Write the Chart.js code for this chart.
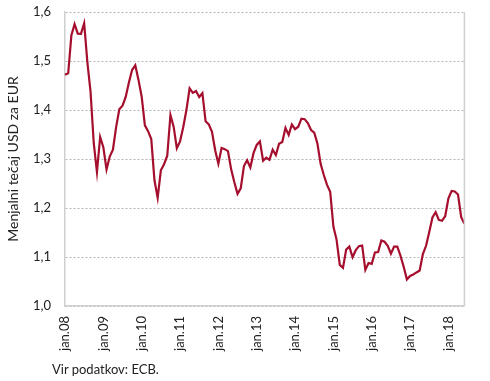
<!DOCTYPE html>
<html>
<head>
<meta charset="utf-8">
<script src="https://cdn.jsdelivr.net/npm/chart.js@4/dist/chart.umd.min.js"></script>
<style>
html,body{margin:0;padding:0;background:#fff;}
#wrap{position:relative;width:490px;height:381px;}
#note{position:absolute;left:52px;top:361px;font:13px Lato, "Open Sans", sans-serif;color:#222;}
</style>
</head>
<body>
<div id="wrap"><canvas id="c" width="490" height="381"></canvas><div id="note">Vir podatkov: ECB.</div></div>
<script>
const monthNames = ['jan','feb','mar','apr','maj','jun','jul','avg','sep','okt','nov','dec'];
const years = ['08','09','10','11','12','13','14','15','16','17','18'];
const categories = [];
for (const y of years) for (const m of monthNames) categories.push(m + '.' + y);
categories.length = 126; // jan.08 - jun.18

const usdPerEur = [
  1.4718,1.4748,1.5527,1.5750,1.5557,1.5553,1.5770,1.4975,1.4370,1.3322,1.2732,1.3449,
  1.3239,1.2785,1.3050,1.3190,1.3650,1.4016,1.4088,1.4268,1.4562,1.4816,1.4914,1.4614,
  1.4272,1.3686,1.3569,1.3406,1.2565,1.2209,1.2770,1.2894,1.3067,1.3898,1.3661,1.3220,
  1.3360,1.3649,1.3999,1.4442,1.4349,1.4388,1.4264,1.4343,1.3770,1.3706,1.3556,1.3179,
  1.2905,1.3224,1.3201,1.3162,1.2789,1.2526,1.2288,1.2400,1.2856,1.2974,1.2828,1.3119,
  1.3288,1.3359,1.2964,1.3026,1.2982,1.3189,1.3080,1.3310,1.3348,1.3635,1.3493,1.3704,
  1.3610,1.3659,1.3823,1.3813,1.3732,1.3592,1.3539,1.3316,1.2901,1.2673,1.2472,1.2331,
  1.1621,1.1350,1.0838,1.0779,1.1150,1.1213,1.0996,1.1139,1.1221,1.1235,1.0736,1.0877,
  1.0860,1.1093,1.1100,1.1339,1.1311,1.1229,1.1069,1.1212,1.1212,1.1026,1.0799,1.0543,
  1.0614,1.0643,1.0685,1.0723,1.1058,1.1229,1.1511,1.1807,1.1915,1.1756,1.1738,1.1836,
  1.2200,1.2348,1.2336,1.2276,1.1812,1.1678
];
const yTicks = [1.0,1.1,1.2,1.3,1.4,1.5,1.6];

const frame = {
  id:'frame',
  afterDraw(chart){
    const a = chart.chartArea, ctx = chart.ctx;
    ctx.save();
    ctx.strokeStyle = '#cfcfcf'; ctx.lineWidth = 1.5;
    ctx.beginPath(); ctx.moveTo(a.right, a.top); ctx.lineTo(a.right, a.bottom); ctx.stroke();
    ctx.restore();
  }
};

new Chart(document.getElementById('c'), {
  type:'line',
  data:{ labels: categories, datasets:[{ data: usdPerEur, borderColor:'#a50e2d', borderWidth:2.2, pointRadius:0, tension:0, fill:false }]},
  options:{
    responsive:false, animation:false,
    layout:{ padding:{ left:0, top:12, right:8, bottom:0 } },
    plugins:{ legend:{display:false}, tooltip:{enabled:false} },
    scales:{
      x:{
        type:'category', offset:false,
        grid:{ display:false, drawTicks:false },
        border:{ display:true, color:'#cfcfcf', width:1.5 },
        ticks:{ autoSkip:false, maxRotation:90, minRotation:90, padding:10, color:'#222',
          font:{ family:'Lato', size:13 },
          callback(v, i){ return i % 12 === 0 ? categories[i] : ''; } },
        afterFit(s){ s.height = 75; }
      },
      y:{
        min:1.0, max:1.6,
        afterBuildTicks(s){ s.ticks = yTicks.map(v => ({value:v})); },
        grid:{ color:'#b5b5b5', lineWidth:1, drawTicks:false },
        border:{ display:true, color:'#cfcfcf', width:1.5, dash:[2,2] },
        ticks:{ padding:14, color:'#222', font:{ family:'Lato', size:13 },
          callback(v){ return v.toFixed(1).replace('.', ','); } },
        title:{ display:true, text:'Menjalni tečaj USD za EUR', color:'#222', font:{ family:'Lato', size:14 }, padding:{top:5,bottom:0} },
        afterFit(s){ s.width = 65; s.paddingTop = 0; s.paddingBottom = 0; }
      }
    }
  },
  plugins:[frame]
});
</script>
</body>
</html>
